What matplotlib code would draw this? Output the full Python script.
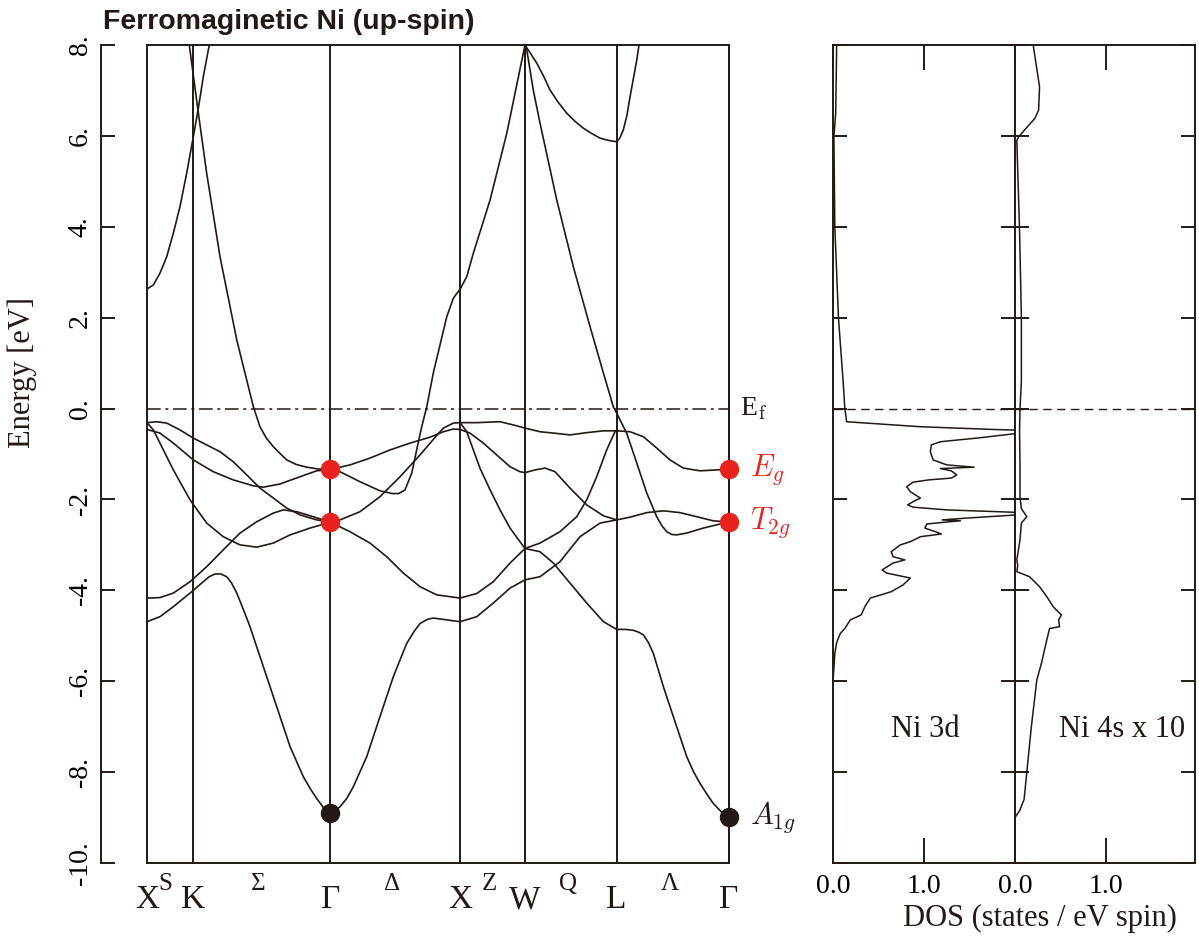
import matplotlib
matplotlib.use('Agg')
import matplotlib.pyplot as plt
import matplotlib.transforms as mtransforms

plt.rcParams['font.family'] = ['Liberation Serif', 'DejaVu Serif']
plt.rcParams['mathtext.fontset'] = 'cm'

INK = '#231815'
RED = '#e8231e'

# high-symmetry points (distance along path, 2pi/a)
sym_k = [0.0, 0.354, 1.414, 2.414, 2.914, 3.621, 4.487]
klabels = ['X', 'S', 'K', 'Σ', 'Γ', 'Δ', 'X', 'Z', 'W', 'Q', 'L', 'Λ', 'Γ']
klabel_pos = [0.0, 0.140, 0.354, 0.856, 1.414, 1.889, 2.414, 2.637, 2.914, 3.246, 3.621, 4.032, 4.487]
klabel_raised = [0, 1, 0, 1, 0, 1, 0, 1, 0, 1, 0, 1, 0]

# bands: (k list, energy list) per piece
bands = [
    # X -> K -> Gamma
    ([0, 0.075, 0.152, 0.254, 0.357, 0.460, 0.563, 0.665, 0.769, 0.871, 0.974, 1.077, 1.180, 1.308, 1.414],
     [-0.31, -0.29, -0.32, -0.47, -0.65, -0.80, -0.95, -1.17, -1.46, -1.75, -1.97, -2.19, -2.34, -2.45, -2.50]),
    ([0, 0.100, 0.203, 0.357, 0.511, 0.665, 0.820, 0.897, 1.025, 1.180, 1.308, 1.414],
     [-0.46, -0.54, -0.76, -1.13, -1.39, -1.57, -1.70, -1.73, -1.66, -1.50, -1.37, -1.34]),
    ([0, 0.049, 0.100, 0.203, 0.332, 0.460, 0.588, 0.717, 0.846, 0.974, 1.103, 1.257, 1.414],
     [-0.31, -0.47, -0.76, -1.35, -2.01, -2.52, -2.82, -3.00, -3.05, -2.96, -2.78, -2.63, -2.50]),
    ([0, 0.100, 0.203, 0.332, 0.460, 0.588, 0.717, 0.846, 0.974, 1.051, 1.154, 1.282, 1.414],
     [-4.17, -4.16, -4.06, -3.81, -3.48, -3.11, -2.74, -2.49, -2.30, -2.23, -2.27, -2.38, -2.50]),
    ([0, 0.100, 0.203, 0.332, 0.434, 0.480, 0.524, 0.570, 0.614, 0.650, 0.692, 0.740, 0.794, 0.897, 1.000,
      1.103, 1.205, 1.260, 1.308, 1.360, 1.390, 1.414],
     [-4.69, -4.58, -4.36, -4.06, -3.81, -3.70, -3.64, -3.64, -3.70, -3.83, -4.06, -4.40, -4.80, -5.68, -6.56,
      -7.44, -8.10, -8.37, -8.58, -8.78, -8.87, -8.91]),
    ([0, 0.049, 0.100, 0.152, 0.203, 0.254, 0.306, 0.357, 0.396, 0.434, 0.480, 0.520],
     [2.63, 2.72, 2.98, 3.34, 3.86, 4.44, 5.18, 5.98, 6.61, 7.30, 8.00, 8.70]),
    ([0.300, 0.326, 0.396, 0.460, 0.563, 0.692, 0.820, 0.871, 0.920, 0.974, 1.030, 1.077, 1.150, 1.231, 1.320, 1.414],
     [8.60, 8.00, 6.50, 5.18, 3.34, 1.51, 0.04, -0.40, -0.65, -0.84, -1.00, -1.13, -1.23, -1.29, -1.33, -1.34]),
    # Gamma -> X -> W
    ([1.414, 1.488, 1.642, 1.796, 1.890, 1.940, 1.989, 2.041, 2.079, 2.118, 2.157, 2.207, 2.259, 2.311, 2.362, 2.414,
      2.465, 2.516, 2.645, 2.774, 2.914],
     [-1.34, -1.39, -1.61, -1.81, -1.87, -1.87, -1.79, -1.42, -0.91, -0.40, 0.04, 0.78, 1.40, 2.02, 2.43, 2.63,
      2.90, 3.42, 4.59, 6.06, 8.00]),
    ([1.414, 1.565, 1.719, 1.874, 2.028, 2.182, 2.285, 2.362, 2.414],
     [-1.34, -1.24, -1.09, -0.91, -0.76, -0.63, -0.51, -0.45, -0.46]),
    ([1.414, 1.488, 1.642, 1.796, 1.951, 2.105, 2.207, 2.285, 2.362, 2.414],
     [-2.50, -2.45, -2.27, -1.94, -1.50, -1.02, -0.68, -0.43, -0.32, -0.31]),
    ([1.414, 1.565, 1.719, 1.848, 1.976, 2.105, 2.234, 2.414],
     [-2.50, -2.71, -2.96, -3.26, -3.62, -3.92, -4.10, -4.17]),
    ([1.414, 1.440, 1.488, 1.540, 1.591, 1.694, 1.796, 1.899, 2.002, 2.060, 2.105, 2.160, 2.207, 2.311, 2.414],
     [-8.91, -8.88, -8.76, -8.58, -8.32, -7.66, -6.78, -5.90, -5.17, -4.90, -4.73, -4.64, -4.61, -4.65, -4.69]),
    # X -> W
    ([2.414, 2.542, 2.722, 2.824, 2.914], [-0.31, -0.31, -0.29, -0.36, -0.43]),
    ([2.414, 2.490, 2.593, 2.696, 2.799, 2.876, 2.914], [-0.46, -0.54, -0.76, -1.02, -1.28, -1.39, -1.41]),
    ([2.414, 2.465, 2.516, 2.567, 2.645, 2.722, 2.799, 2.914], [-0.31, -0.51, -0.91, -1.31, -1.79, -2.23, -2.63, -3.08]),
    ([2.414, 2.542, 2.670, 2.799, 2.914], [-4.17, -4.07, -3.81, -3.40, -3.08]),
    ([2.414, 2.542, 2.670, 2.799, 2.914], [-4.69, -4.58, -4.28, -3.95, -3.77]),
    # W -> L
    ([2.914, 3.030, 3.133, 3.261, 3.390, 3.519, 3.621], [-0.43, -0.51, -0.54, -0.58, -0.53, -0.49, -0.49]),
    ([2.914, 2.992, 3.069, 3.146, 3.261, 3.390, 3.519, 3.621], [-1.41, -1.35, -1.31, -1.39, -1.75, -2.12, -2.36, -2.45]),
    ([2.914, 3.030, 3.184, 3.313, 3.390, 3.467, 3.544, 3.608, 3.621], [-3.08, -2.96, -2.71, -2.38, -2.01, -1.50, -0.91, -0.51, -0.49]),
    ([2.914, 3.030, 3.133, 3.261, 3.390, 3.519, 3.621], [-3.08, -3.15, -3.40, -3.84, -4.28, -4.69, -4.86]),
    ([2.914, 3.030, 3.184, 3.338, 3.493, 3.621], [-3.77, -3.70, -3.37, -2.82, -2.52, -2.45]),
    ([2.914, 2.960, 3.005, 3.060, 3.107, 3.170, 3.236, 3.300, 3.364, 3.430, 3.493, 3.560, 3.621, 3.645, 3.672,
      3.700, 3.724, 3.776, 3.793, 3.810],
     [8.00, 7.80, 7.60, 7.30, 7.01, 6.74, 6.50, 6.32, 6.17, 6.05, 5.95, 5.90, 5.87, 5.95, 6.13,
      6.45, 6.86, 7.67, 8.00, 8.40]),
    ([2.914, 2.928, 2.978, 3.030, 3.159, 3.287, 3.416, 3.519, 3.595, 3.621, 3.647, 3.698, 3.776, 3.853, 3.930,
      3.970, 4.007, 4.045, 4.084, 4.161, 4.289, 4.418, 4.487],
     [8.00, 7.89, 7.01, 6.28, 4.59, 3.12, 1.80, 0.78, 0.04, -0.10, -0.25, -0.54, -1.20, -1.86, -2.38,
      -2.58, -2.71, -2.77, -2.78, -2.74, -2.63, -2.54, -2.50]),
    # L -> Gamma
    ([3.621, 3.724, 3.827, 3.930, 4.032, 4.135, 4.264, 4.392, 4.487], [-0.49, -0.51, -0.62, -0.87, -1.13, -1.31, -1.37, -1.35, -1.34]),
    ([3.621, 3.724, 3.853, 3.981, 4.109, 4.238, 4.366, 4.487], [-2.45, -2.39, -2.29, -2.25, -2.29, -2.38, -2.47, -2.50]),
    ([3.621, 3.690, 3.750, 3.790, 3.827, 3.866, 3.904, 3.981, 4.058, 4.161, 4.215, 4.264, 4.320, 4.366, 4.430,
      4.460, 4.487],
     [-4.86, -4.86, -4.88, -4.92, -4.98, -5.15, -5.39, -6.12, -6.78, -7.66, -8.00, -8.25, -8.50, -8.69, -8.88,
      -8.94, -8.98]),
]

# symmetry points marked at Gamma
red_k = [1.414, 1.414, 4.487, 4.487]
red_e = [-1.34, -2.50, -1.34, -2.50]
black_k = [1.414, 4.487]
black_e = [-8.91, -8.98]

# DOS (energy, value)
dos3d_e = [8.0, 6.5, 6.0, 4.0, 2.0, 0.63, 0.0, -0.29, -0.40, -0.46, -0.48, -0.53, -0.65, -0.73, -0.80, -0.95,
           -1.13, -1.24, -1.29, -1.32, -1.37, -1.46, -1.53, -1.57, -1.62, -1.72, -1.83, -1.97, -2.05, -2.12,
           -2.17, -2.23, -2.29, -2.33, -2.41, -2.45, -2.47, -2.51, -2.54, -2.63, -2.72, -2.76, -2.82, -2.93,
           -3.00, -3.15, -3.26, -3.33, -3.40, -3.55, -3.62, -3.73, -3.88, -4.03, -4.17, -4.36, -4.54, -4.65,
           -4.84, -4.95, -5.15, -5.39, -5.7, -6.0, -10.0]
dos3d_v = [0.04, 0.03, 0.01, 0.02, 0.06, 0.11, 0.13, 0.15, 0.96, 1.76, 2.10, 2.10, 1.58, 1.18, 1.08, 1.07,
           1.10, 1.25, 1.55, 1.18, 1.30, 1.36, 1.30, 1.05, 0.88, 0.81, 0.85, 0.96, 0.88, 0.82,
           0.88, 1.25, 2.10, 2.10, 1.47, 1.20, 1.40, 1.18, 1.03, 1.01, 1.14, 1.19, 0.96, 0.85,
           0.74, 0.64, 0.66, 0.79, 0.66, 0.54, 0.59, 0.85, 0.77, 0.64, 0.41, 0.35, 0.31, 0.19,
           0.13, 0.08, 0.04, 0.02, 0.01, 0.0, 0.0]
dos4s_e = [8.0, 7.08, 6.57, 6.39, 5.98, 5.9, 3.93, 2.02, 0.6, 0.0, -0.5, -1.2, -1.94, -2.2, -2.38, -2.52,
           -2.89, -3.33, -3.45, -3.59, -3.70, -3.92, -4.14, -4.36, -4.54, -4.65, -4.80, -4.84, -5.09, -5.61,
           -5.97, -7.0, -8.0, -8.6, -8.85, -9.0, -10.0]
dos4s_v = [0.20, 0.27, 0.26, 0.22, 0.04, 0.02, 0.05, 0.07, 0.07, 0.055, 0.05, 0.055, 0.055, 0.07, 0.13, 0.07,
           0.055, 0.02, 0.03, 0.02, 0.16, 0.27, 0.35, 0.42, 0.51, 0.48, 0.49, 0.38, 0.35, 0.29,
           0.24, 0.18, 0.13, 0.10, 0.05, 0.0, 0.0]

W, H = 1199, 942
fig = plt.figure(figsize=(W / 100, H / 100), dpi=100)


def rect(x0, x1, y0=45, y1=863):
    return [x0 / W, 1 - y1 / H, (x1 - x0) / W, (y1 - y0) / H]


# ---- band structure
ax = fig.add_axes(rect(147, 729))
for k, e in bands:
    ax.plot(k, e, color=INK, lw=1.2, solid_joinstyle='round')
for k in sym_k:
    ax.axvline(k, color=INK, lw=1.4, clip_on=False)
ax.axhline(0, color=INK, lw=1.1, dashes=(9, 3, 2, 3))
ax.plot(red_k, red_e, 'o', ms=13, color=RED, clip_on=False, zorder=5)
ax.plot(black_k, black_e, 'o', ms=13, color=INK, clip_on=False, zorder=5)
ax.set_xlim(sym_k[0], sym_k[-1])
ax.set_ylim(-10, 8)
ax.set_xticks([])
ax.set_yticks(range(-10, 9, 2))
ax.set_yticklabels(['-10.', '-8.', '-6.', '-4.', '-2.', '0.', '2.', '4.', '6.', '8.'])
ax.spines['left'].set_position(('outward', 33))
for s in ax.spines.values():
    s.set_linewidth(1.4)
    s.set_color(INK)
ax.tick_params(axis='y', direction='in', length=10, width=1.4, color=INK,
               labelsize=20, labelrotation=90, pad=6)
for t in ax.get_yticklabels():
    t.set_va('center')

tr = mtransforms.blended_transform_factory(ax.transData, fig.transFigure)
for lab, k, up in zip(klabels, klabel_pos, klabel_raised):
    if up:
        ax.text(k, 1 - 884 / H, lab, transform=tr, ha='center', va='center', fontsize=18, color=INK)
    else:
        ax.text(k, 1 - 900 / H, lab, transform=tr, ha='center', va='center', fontsize=24, color=INK)

ax.text(4.572, 0, r'E$_{\rm f}$', ha='left', va='center', fontsize=20, color=INK, clip_on=False)
ax.text(4.649, -1.34, r'$E_g$', ha='left', va='center', fontsize=22, color=RED, clip_on=False)
ax.text(4.649, -2.50, r'$T_{2g}$', ha='left', va='center', fontsize=22, color=RED, clip_on=False)
ax.text(4.649, -8.98, r'$A_{1g}$', ha='left', va='center', fontsize=22, color=INK, clip_on=False)

fig.text(22 / W, 1 - 372 / H, 'Energy [eV]', rotation=90, ha='center', va='center', fontsize=22, color=INK)
fig.text(103 / W, 1 - 22 / H, 'Ferromaginetic Ni (up-spin)', family='Liberation Sans', weight='bold',
         fontsize=20.5, ha='left', va='center', color=INK)

# ---- DOS panels
ax1 = fig.add_axes(rect(833, 1015))
ax2 = fig.add_axes(rect(1015, 1195))
ax1.plot(dos3d_v, dos3d_e, color=INK, lw=1.1)
ax2.plot(dos4s_v, dos4s_e, color=INK, lw=1.1)
for a, xmax in ((ax1, 2.0), (ax2, 1.98)):
    a.set_xlim(0, xmax)
    a.set_ylim(-10, 8)
    a.axhline(0, color=INK, lw=1.0, dashes=(6, 4))
    a.set_xticks([0, 1])
    a.set_xticklabels(['0.0', '1.0'])
    a.set_yticks(range(-10, 9, 2))
    a.set_yticklabels([])
    a.tick_params(axis='x', direction='in', top=True, bottom=True, length=18, width=1.4,
                  color=INK, labelsize=20, pad=8)
    a.tick_params(axis='y', direction='in', left=True, right=True, length=10, width=1.4, color=INK)
    for s in a.spines.values():
        s.set_linewidth(1.4)
        s.set_color(INK)

ax1.text(1.01, -7.07, 'Ni 3d', ha='center', va='center', fontsize=22, color=INK)
ax2.text(1.18, -7.07, 'Ni 4s x 10', ha='center', va='center', fontsize=22, color=INK)
fig.text(1040 / W, 1 - 918 / H, 'DOS (states / eV spin)', ha='center', va='center', fontsize=22, color=INK)

fig.savefig('out.png', dpi=100)
